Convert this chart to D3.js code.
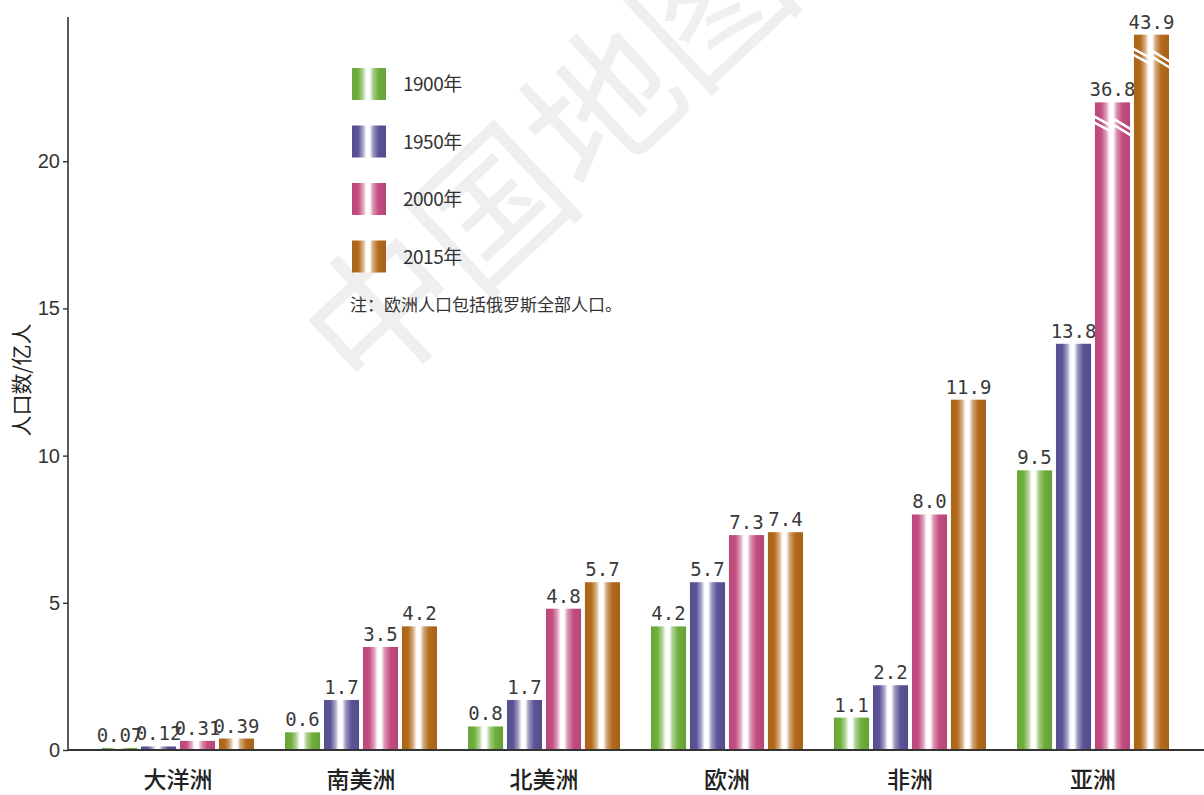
<!DOCTYPE html>
<html>
<head>
<meta charset="utf-8">
<script src="https://cdn.jsdelivr.net/npm/d3@7"></script>
<style>
  body { margin: 0; background: #fff; }
  svg { display: block; }
</style>
</head>
<body>
<div id="chart"></div>
<script>
const width = 1204,
    height = 795
const margin = {top: 17, right: 0, bottom: 45, left: 68}

// 数据
const continents = ['大洋洲', '南美洲', '北美洲', '欧洲', '非洲', '亚洲']
const years = ['1900年', '1950年', '2000年', '2015年']
const pop1900 = [0.07, 0.6, 0.8, 4.2, 1.1, 9.5]
const pop1950 = [0.12, 1.7, 1.7, 5.7, 2.2, 13.8]
const pop2000 = [0.31, 3.5, 4.8, 7.3, 8.0, 36.8]
const pop2015 = [0.39, 4.2, 5.7, 7.4, 11.9, 43.9]
const labels1900 = ['0.07', '0.6', '0.8', '4.2', '1.1', '9.5']
const labels1950 = ['0.12', '1.7', '1.7', '5.7', '2.2', '13.8']
const labels2000 = ['0.31', '3.5', '4.8', '7.3', '8.0', '36.8']
const labels2015 = ['0.39', '4.2', '5.7', '7.4', '11.9', '43.9']
const yTicks = [0, 5, 10, 15, 20]
// 截断的柱子：画到的高度
const brokenContinent = ['亚洲', '亚洲']
const brokenYear = ['2000年', '2015年']
const brokenShownTo = [22.0, 24.3]
const yMax = 24.9
const colors = ['#6fae3c', '#5a5498', '#c34d80', '#b36a1c']
const note = '注：欧洲人口包括俄罗斯全部人口。'

const seriesValues = [pop1900, pop1950, pop2000, pop2015]
const seriesLabels = [labels1900, labels1950, labels2000, labels2015]

const rows = []
continents.forEach(function (c, i) {
    years.forEach(function (y, j) {
        let shown = seriesValues[j][i]
        let broken = false
        brokenContinent.forEach(function (bc, k) {
            if (bc === c && brokenYear[k] === y) {
                shown = brokenShownTo[k]
                broken = true
            }
        })
        rows.push({continent: c, year: y, value: seriesValues[j][i], label: seriesLabels[j][i], shown: shown, broken: broken, color: j})
    })
})

const svg = d3.select('#chart')
    .append('svg')
    .attr('width', width)
    .attr('height', height)
    .attr('font-family', '"Noto Sans CJK SC", sans-serif')

// 渐变
const defs = svg.append('defs')
colors.forEach(function (c, i) {
    const light = d3.interpolateRgb(c, '#ffffff')
    const dark = d3.interpolateRgb(c, '#000000')
    const g = defs.append('linearGradient')
        .attr('id', 'grad' + i)
        .attr('x1', '0%').attr('x2', '100%')
        .attr('y1', '0%').attr('y2', '0%')
    const stops = [
        [0, dark(0.05)], [0.18, c], [0.32, light(0.45)], [0.42, '#ffffff'],
        [0.52, '#ffffff'], [0.62, light(0.4)], [0.78, c], [1, dark(0.08)]
    ]
    stops.forEach(function (s) {
        g.append('stop').attr('offset', s[0]).attr('stop-color', s[1])
    })
})

// 水印
svg.append('text')
    .attr('transform', 'translate(540,150) rotate(-43)')
    .attr('text-anchor', 'middle')
    .attr('dominant-baseline', 'central')
    .attr('font-size', 150)
    .attr('font-weight', 400)
    .attr('fill', '#efefef')
    .text('中国地图')

const x0 = d3.scaleBand()
    .domain(continents)
    .range([86.5, 1184.5])

const x1 = d3.scaleBand()
    .domain(years)
    .range([0, 152])
    .paddingInner(0.1)

const groupOffset = (x0.bandwidth() - 152) / 2

const y = d3.scaleLinear()
    .domain([0, yMax])
    .range([height - margin.bottom, margin.top])

// 柱子
const bars = svg.append('g')
    .selectAll('g')
    .data(rows)
    .enter().append('g')
    .attr('transform', function (d) {
        return 'translate(' + (x0(d.continent) + groupOffset + x1(d.year)) + ',0)'
    })

bars.append('rect')
    .attr('x', 0)
    .attr('width', x1.bandwidth())
    .attr('y', function (d) { return y(d.shown) })
    .attr('height', function (d) { return y(0) - y(d.shown) })
    .attr('fill', function (d) { return 'url(#grad' + d.color + ')' })

// 截断标记
const bw = x1.bandwidth()
bars.filter(function (d) { return d.broken })
    .each(function (d) {
        const top = y(d.shown) + 14
        const line = d3.line()
        const g = d3.select(this)
        ;[0, 6].forEach(function (off) {
            g.append('path')
                .attr('d', line([[-1, top + off], [bw * 0.45, top + off + 9], [bw * 0.56, top + off + 3], [bw + 1, top + off + 13]]))
                .attr('fill', 'none')
                .attr('stroke', '#fff')
                .attr('stroke-width', 2.4)
        })
    })

// 数值
bars.append('text')
    .attr('x', bw / 2)
    .attr('y', function (d) { return y(d.shown) - 6 })
    .attr('text-anchor', 'middle')
    .attr('font-family', '"DejaVu Sans Mono", monospace')
    .attr('font-size', 19)
    .attr('fill', '#3a3a3a')
    .text(function (d) { return d.label })

// 坐标轴
const axisY = svg.append('g')
    .attr('transform', 'translate(' + margin.left + ',0)')
    .call(d3.axisLeft(y).tickValues(yTicks).tickSize(5).tickPadding(3))
axisY.select('.domain')
    .attr('d', 'M0,' + y(0) + 'V' + y(yMax))
    .attr('stroke', '#333')
    .attr('stroke-width', 1.6)
axisY.selectAll('.tick line').attr('stroke', '#333').attr('stroke-width', 1.4)
axisY.selectAll('.tick text')
    .attr('font-family', '"Liberation Sans Narrow", "Arial Narrow", "Liberation Sans", sans-serif')
    .attr('font-size', 20)
    .attr('fill', '#333')

svg.append('line')
    .attr('x1', margin.left).attr('x2', width)
    .attr('y1', y(0)).attr('y2', y(0))
    .attr('stroke', '#333')
    .attr('stroke-width', 1.8)

// 类别
svg.append('g')
    .selectAll('text')
    .data(continents)
    .enter().append('text')
    .attr('x', function (d) { return x0(d) + x0.bandwidth() / 2 })
    .attr('y', 788)
    .attr('text-anchor', 'middle')
    .attr('font-size', 23)
    .attr('font-weight', 500)
    .attr('fill', '#222')
    .text(function (d) { return d })

// 纵轴标题
svg.append('text')
    .attr('transform', 'translate(29,380) rotate(-90)')
    .attr('text-anchor', 'middle')
    .attr('font-size', 21)
    .attr('fill', '#222')
    .text('人口数/亿人')

// 图例
const legend = svg.append('g')
    .selectAll('g')
    .data(years)
    .enter().append('g')
    .attr('transform', function (d, i) { return 'translate(352,' + (68 + i * 57.5) + ')' })

legend.append('rect')
    .attr('width', 34)
    .attr('height', 32)
    .attr('fill', function (d, i) { return 'url(#grad' + i + ')' })

legend.append('text')
    .attr('x', 51)
    .attr('y', 23)
    .attr('font-family', '"Liberation Sans Narrow", "Arial Narrow", "Noto Sans CJK SC", sans-serif')
    .attr('font-size', 19)
    .attr('letter-spacing', -0.5)
    .attr('fill', '#333')
    .text(function (d) { return d })

svg.append('text')
    .attr('x', 350)
    .attr('y', 311)
    .attr('font-size', 17)
    .attr('fill', '#333')
    .text(note)
</script>
</body>
</html>
